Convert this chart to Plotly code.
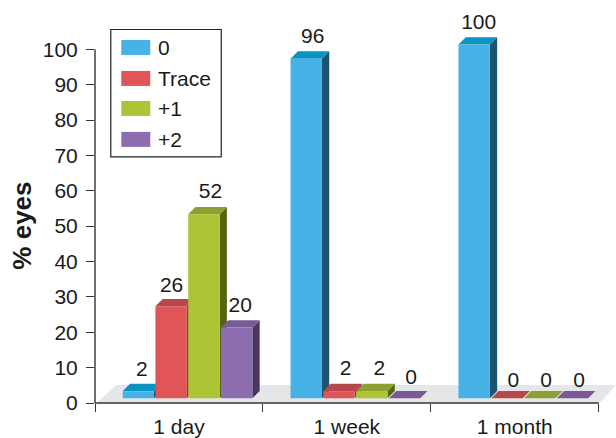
import plotly.graph_objects as go

# Data
categories = ["1 day", "1 week", "1 month"]
series_names = ["0", "Trace", "+1", "+2"]
grade_0 = [2, 96, 100]
grade_trace = [26, 2, 0]
grade_1 = [52, 2, 0]
grade_2 = [20, 0, 0]
y_ticks = [0, 10, 20, 30, 40, 50, 60, 70, 80, 90, 100]
series_values = [grade_0, grade_trace, grade_1, grade_2]

# Colours: front, top, side
front = ["#47b2e6", "#df5558", "#adc436", "#8e6cb0"]
top = ["#0b93c1", "#b5474d", "#8c9f31", "#7a5a95"]
side = ["#1a5470", "#8a3b40", "#53660f", "#4a3560"]
FONT = "Liberation Sans"
INK = "#1a1a1a"

# Layout geometry
W, H = 616, 438
PLOT_L, PLOT_B = 94.7, 403.3
PX_CAT = 168.0          # pixels per category
PX_UNIT = 3.54          # pixels per percent
X_MAX = (W - PLOT_L) / PX_CAT
Y_MAX = PLOT_B / PX_UNIT
BASE = 1.33             # bars stand forward on the floor
DX = 7.3 / PX_CAT       # 3-D depth in axis units
DY = 7.4 / PX_UNIT
BAR_W = 31.4 / PX_CAT
PITCH = 32.8 / PX_CAT
GROUP_C = 0.551
LABEL_DX = 4.5 / PX_CAT
LABEL_DY = 21.5 / PX_UNIT
# Small hand placement of each value label, in pixels (right, down)
nudge_x = [[-1, 2, 0], [-4, 2, 2], [2, 3, 2], [-1, 2, 2]]
nudge_y = [[1, 1, 1], [2, 0, 5], [0, 0, 5], [1, 2, 5]]


def poly(pts, color):
    path = "M" + "L".join(f"{x},{y}" for x, y in pts) + "Z"
    return dict(type="path", path=path, xref="x", yref="y", fillcolor=color,
                line=dict(width=0), layer="below")


shapes = [poly([(0.012, 0.1), (3.008, 0.1), (X_MAX, 5.1), (0.127, 5.1)], "#e5e6e7")]
fig = go.Figure()
centers = [[i + GROUP_C + (s - 1.5) * PITCH for i in range(len(categories))]
           for s in range(len(series_names))]

# Top and side faces, painted group by group from left to right
for i in range(len(categories)):
    for s in range(len(series_names)):
        c = centers[s][i]
        v = series_values[s][i]
        l, r = c - BAR_W / 2, c + BAR_W / 2
        t = BASE + v
        shapes.append(poly([(r, BASE), (r + DX, BASE + DY), (r + DX, t + DY), (r, t)], side[s]))
        shapes.append(poly([(l, t), (r, t), (r + DX, t + DY), (l + DX, t + DY)], top[s]))

# Front faces
for s, name in enumerate(series_names):
    fig.add_trace(go.Bar(
        x=centers[s], y=series_values[s], base=BASE, width=BAR_W, name=name,
        marker=dict(color=front[s], line=dict(width=0)), showlegend=False,
        hoverinfo="name+y"))

# Value labels
for s, name in enumerate(series_names):
    fig.add_trace(go.Scatter(
        x=[c + LABEL_DX + n / PX_CAT for c, n in zip(centers[s], nudge_x[s])],
        y=[BASE + v + LABEL_DY - n / PX_UNIT for v, n in zip(series_values[s], nudge_y[s])],
        text=[str(v) for v in series_values[s]], mode="text",
        textposition="middle center",
        textfont=dict(family=FONT, size=21, color=INK),
        showlegend=False, hoverinfo="skip"))

# Axis lines stop at the last tick, not at the plot-area edge
shapes.append(dict(type="line", xref="x", yref="paper", x0=0, x1=3, y0=0, y1=0,
                   line=dict(color="#333333", width=1.6)))
shapes.append(dict(type="line", xref="paper", yref="y", x0=0, x1=0, y0=0, y1=100,
                   line=dict(color="#222222", width=1.3)))

# Legend box
annotations = []
def px(x):
    return (x - PLOT_L) / (W - PLOT_L)
def py(y):
    return (PLOT_B - y) / PLOT_B

shapes.append(dict(type="rect", xref="paper", yref="paper", x0=px(110.5), x1=px(221), y0=py(157), y1=py(29.5),
                   fillcolor="white", line=dict(color="#222222", width=1.2)))
for s, (name, yc) in enumerate(zip(series_names, [47.5, 78.5, 108.5, 139.5])):
    shapes.append(dict(type="rect", xref="paper", yref="paper", x0=px(121), x1=px(150),
                       y0=py(yc + 7.5), y1=py(yc - 7.5), fillcolor=front[s], line=dict(width=0)))
    annotations.append(dict(xref="paper", yref="paper", x=px(157), y=py(yc), text=name, showarrow=False,
                            xanchor="left", yanchor="middle", xshift=-1,
                            font=dict(family=FONT, size=21, color=INK)))

# Axis title
annotations.append(dict(xref="paper", yref="paper", x=px(21.5), y=py(226), text="<b>% eyes</b>",
                        textangle=-90, showarrow=False, xanchor="center", yanchor="middle",
                        font=dict(family=FONT, size=26, color=INK)))

fig.update_layout(
    width=W, height=H, autosize=False,
    margin=dict(l=PLOT_L, r=0, t=0, b=H - PLOT_B, pad=0),
    paper_bgcolor="white", plot_bgcolor="white",
    barmode="overlay", showlegend=False, shapes=shapes, annotations=annotations,
    xaxis=dict(range=[0, X_MAX], showgrid=False, zeroline=False, showline=False,
               tickmode="array", tickvals=[0.5, 1.5, 2.5], ticktext=categories,
               ticks="", ticklabelstandoff=9,
               tickfont=dict(family=FONT, size=21, color=INK),
               minor=dict(tickmode="array", tickvals=[0, 1, 2, 3], ticks="outside", ticklen=8,
                          tickwidth=1.3, tickcolor="#333333", showgrid=False)),
    yaxis=dict(range=[0, Y_MAX], showgrid=False, zeroline=False, showline=False,
               tickmode="array", tickvals=y_ticks, ticks="outside", ticklen=8, tickwidth=1.3,
               tickcolor="#333333", ticklabelstandoff=4,
               tickfont=dict(family=FONT, size=21, color=INK)),
)
fig.write_html("out.html", config=dict(displayModeBar=False),
               post_script="document.body.style.margin='0';document.body.style.overflow='hidden';")
